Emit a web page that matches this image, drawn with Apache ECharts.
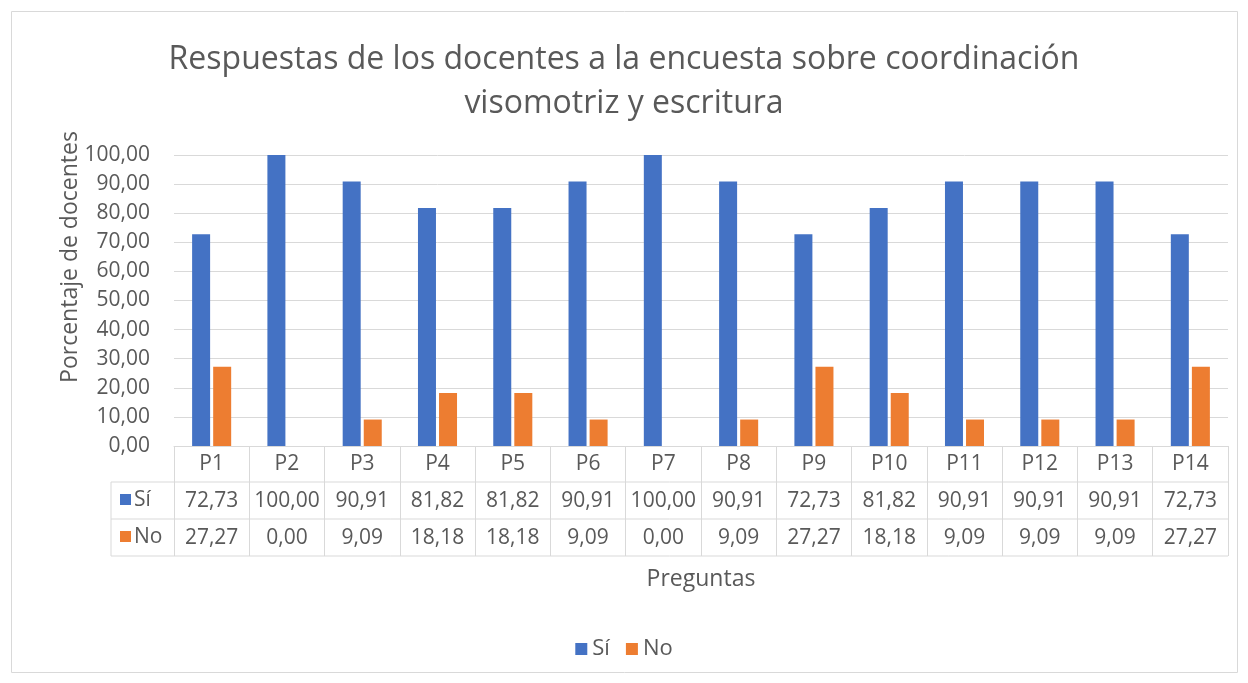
<!DOCTYPE html>
<html>
<head>
<meta charset="utf-8">
<script src="https://cdn.jsdelivr.net/npm/echarts@6/dist/echarts.min.js"></script>
<style>
  html, body { margin: 0; padding: 0; background: #fff; }
  #chart { width: 1248px; height: 683px; }
</style>
</head>
<body>
<div id="chart"></div>
<script>
const categories = ['P1', 'P2', 'P3', 'P4', 'P5', 'P6', 'P7', 'P8', 'P9', 'P10', 'P11', 'P12', 'P13', 'P14']
const siValues = [72.73, 100.00, 90.91, 81.82, 81.82, 90.91, 100.00, 90.91, 72.73, 81.82, 90.91, 90.91, 90.91, 72.73]
const noValues = [27.27, 0.00, 9.09, 18.18, 18.18, 9.09, 0.00, 9.09, 27.27, 18.18, 9.09, 9.09, 9.09, 27.27]
const seriesNames = ['Sí', 'No']

const font = 'Open Sans'
const textColor = '#595959'
const lineColor = '#d9d9d9'
const blue = '#4472C4'
const orange = '#ED7D31'

// coma decimal como en el original
const fmt = v => v.toFixed(2).replace('.', ',')

const chart = echarts.init(document.getElementById('chart'))

// bordes de la tabla de datos
const tableLeft = 111, tableRight = 1228
const rowLines = [482, 519, 556]
const tableGraphics = rowLines.map(y => ({
  type: 'line',
  shape: { x1: tableLeft, y1: y, x2: tableRight, y2: y },
  style: { stroke: lineColor, lineWidth: 1 }
}))
tableGraphics.push({
  type: 'line',
  shape: { x1: tableLeft, y1: 482, x2: tableLeft, y2: 556 },
  style: { stroke: lineColor, lineWidth: 1 }
})
// claves de color dentro de la tabla
;[[blue, seriesNames[0], 500], [orange, seriesNames[1], 537]].forEach(([c, name, y]) => {
  tableGraphics.push({ type: 'rect', shape: { x: 120, y: y - 6, width: 11, height: 11 }, style: { fill: c } })
  tableGraphics.push({
    type: 'text', x: 134, y: y,
    style: { text: name, font: '21px "' + font + '"', fill: textColor, verticalAlign: 'middle' }
  })
})

chart.setOption({
  animation: false,
  textStyle: { fontFamily: font },
  title: {
    text: 'Respuestas de los docentes a la encuesta sobre coordinación\nvisomotriz y escritura',
    left: 'center',
    top: 33,
    textStyle: { fontSize: 32, fontWeight: 'normal', color: textColor, lineHeight: 44, fontFamily: font }
  },
  legend: {
    bottom: 18,
    left: 'center',
    icon: 'rect',
    itemWidth: 12,
    itemHeight: 12,
    itemGap: 16,
    textStyle: { fontSize: 22, color: textColor, fontFamily: font },
    data: seriesNames
  },
  grid: { left: 174, right: 20, top: 155, bottom: 237, containLabel: false },
  xAxis: [{
    type: 'category',
    data: categories,
    name: 'Preguntas',
    nameLocation: 'middle',
    nameGap: 122,
    nameTextStyle: { fontSize: 23, color: textColor },
    axisLine: { lineStyle: { color: lineColor } },
    axisTick: { show: true, interval: 0, length: 110, lineStyle: { color: lineColor } },
    axisLabel: { interval: 0, fontSize: 21, color: textColor, margin: 8, lineHeight: 20 }
  }, {
    type: 'category',
    data: categories,
    position: 'bottom',
    offset: 37,
    axisLine: { show: false },
    axisTick: { show: false },
    axisLabel: { interval: 0, fontSize: 21, color: textColor, margin: 8, lineHeight: 20,
      formatter: (v, i) => fmt(siValues[i]) }
  }, {
    type: 'category',
    data: categories,
    position: 'bottom',
    offset: 74,
    axisLine: { show: false },
    axisTick: { show: false },
    axisLabel: { interval: 0, fontSize: 21, color: textColor, margin: 8, lineHeight: 20,
      formatter: (v, i) => fmt(noValues[i]) }
  }],
  yAxis: {
    type: 'value',
    min: 0,
    max: 100,
    interval: 10,
    axisLine: { show: false },
    axisTick: { show: false },
    splitLine: { lineStyle: { color: lineColor } },
    axisLabel: { fontSize: 21, color: textColor, margin: 24, formatter: v => fmt(v) }
  },
  graphic: [{
    type: 'text',
    x: 70, y: 257,
    rotation: Math.PI / 2,
    style: { text: 'Porcentaje de docentes', font: '23px "' + font + '"', fill: textColor, align: 'center', verticalAlign: 'middle' }
  }, {
    type: 'rect',
    shape: { x: 11.5, y: 11.5, width: 1226, height: 661 },
    style: { fill: 'none', stroke: lineColor, lineWidth: 1 }
  }].concat(tableGraphics),
  series: [{
    name: seriesNames[0],
    type: 'bar',
    data: siValues,
    barWidth: 18,
    barGap: '17%',
    itemStyle: { color: blue }
  }, {
    name: seriesNames[1],
    type: 'bar',
    data: noValues,
    barWidth: 18,
    barGap: '17%',
    itemStyle: { color: orange }
  }]
})
</script>
</body>
</html>
